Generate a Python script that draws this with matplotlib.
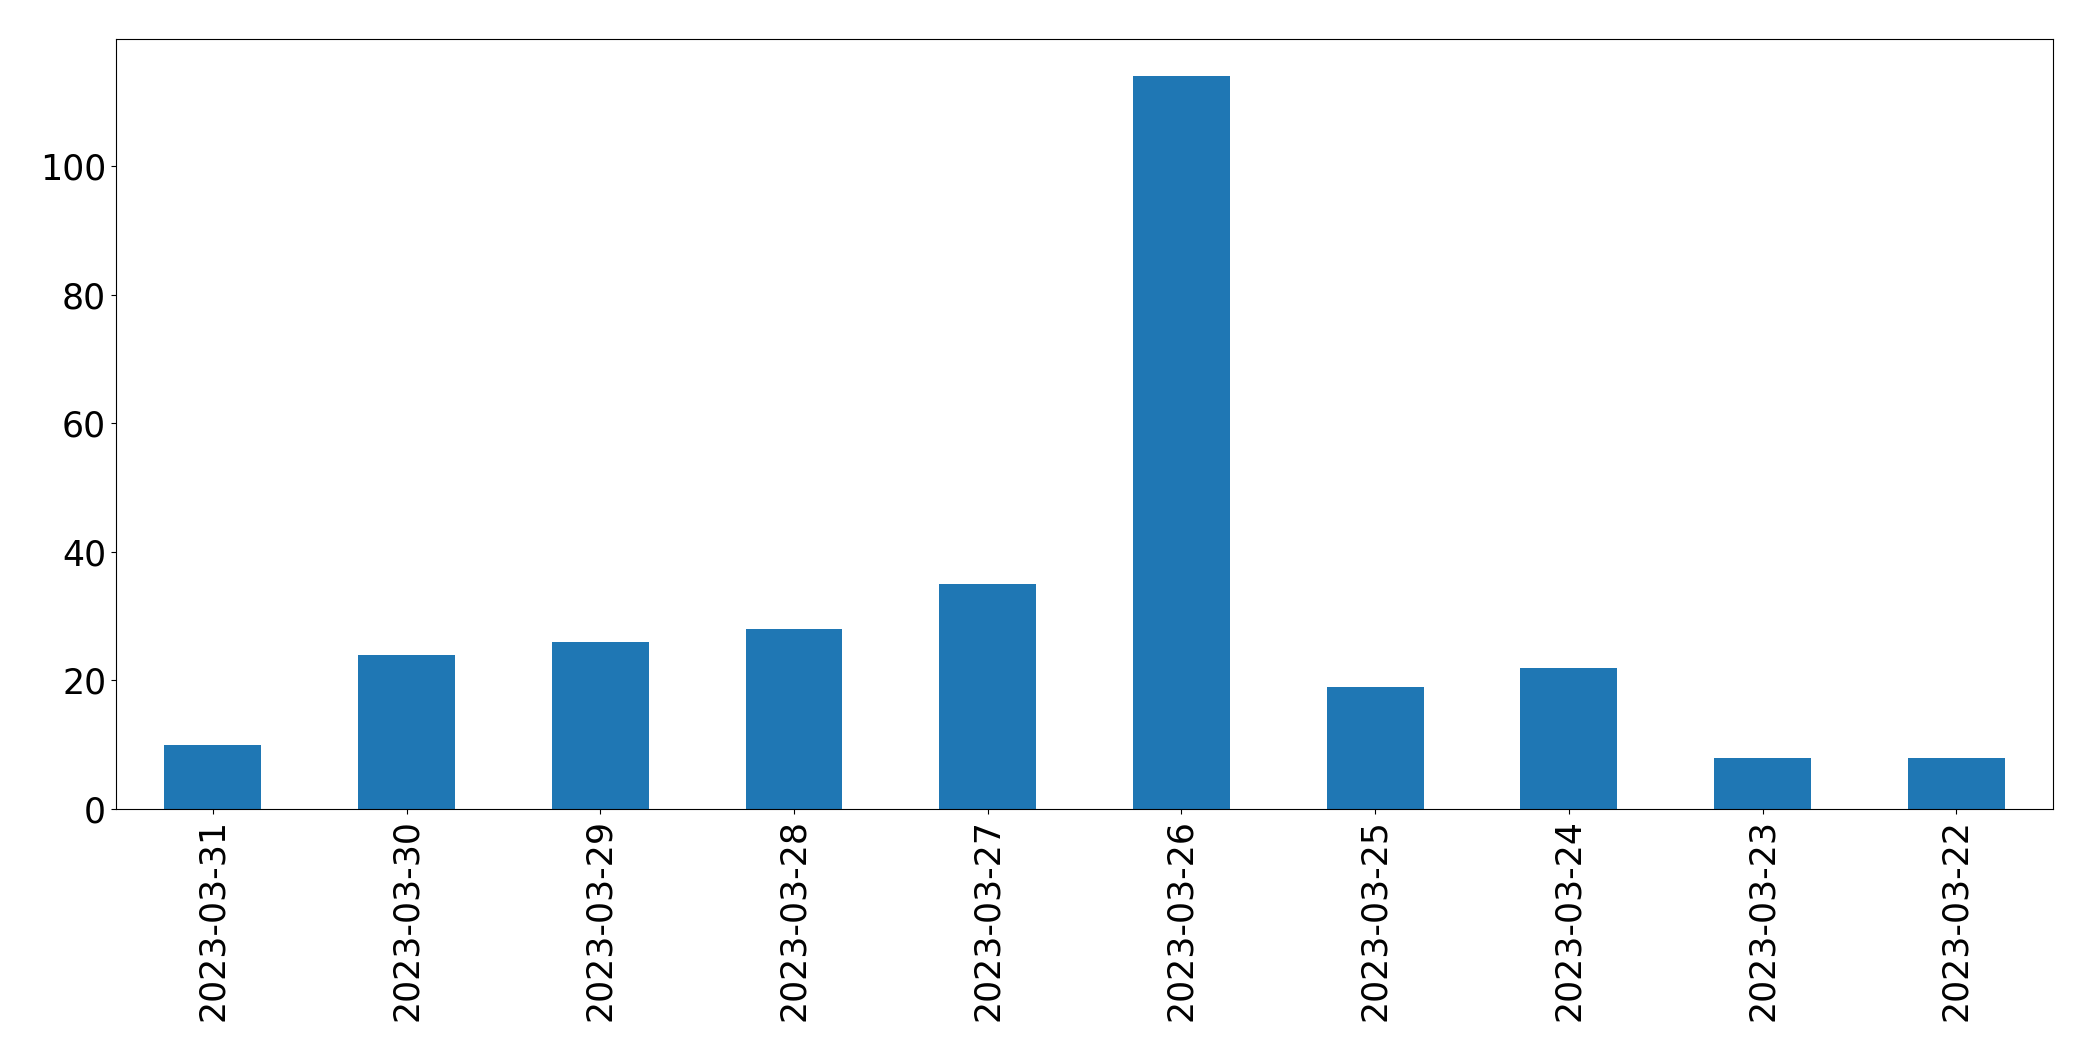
import matplotlib.pyplot as plt
import pandas as pd

dates = ['2023-03-31', '2023-03-30', '2023-03-29', '2023-03-28', '2023-03-27',
         '2023-03-26', '2023-03-25', '2023-03-24', '2023-03-23', '2023-03-22']
counts = [10, 24, 26, 28, 35, 114, 19, 22, 8, 8]

plt.rcParams['font.size'] = 25

fig, ax = plt.subplots(figsize=(20.93, 10.61), dpi=100)
pd.Series(counts, index=dates).plot(kind='bar', ax=ax, color='#1f77b4')
ax.tick_params(labelsize=25)
plt.subplots_adjust(left=0.0554, right=0.981, top=0.963, bottom=0.2375)
plt.savefig('out.png')
